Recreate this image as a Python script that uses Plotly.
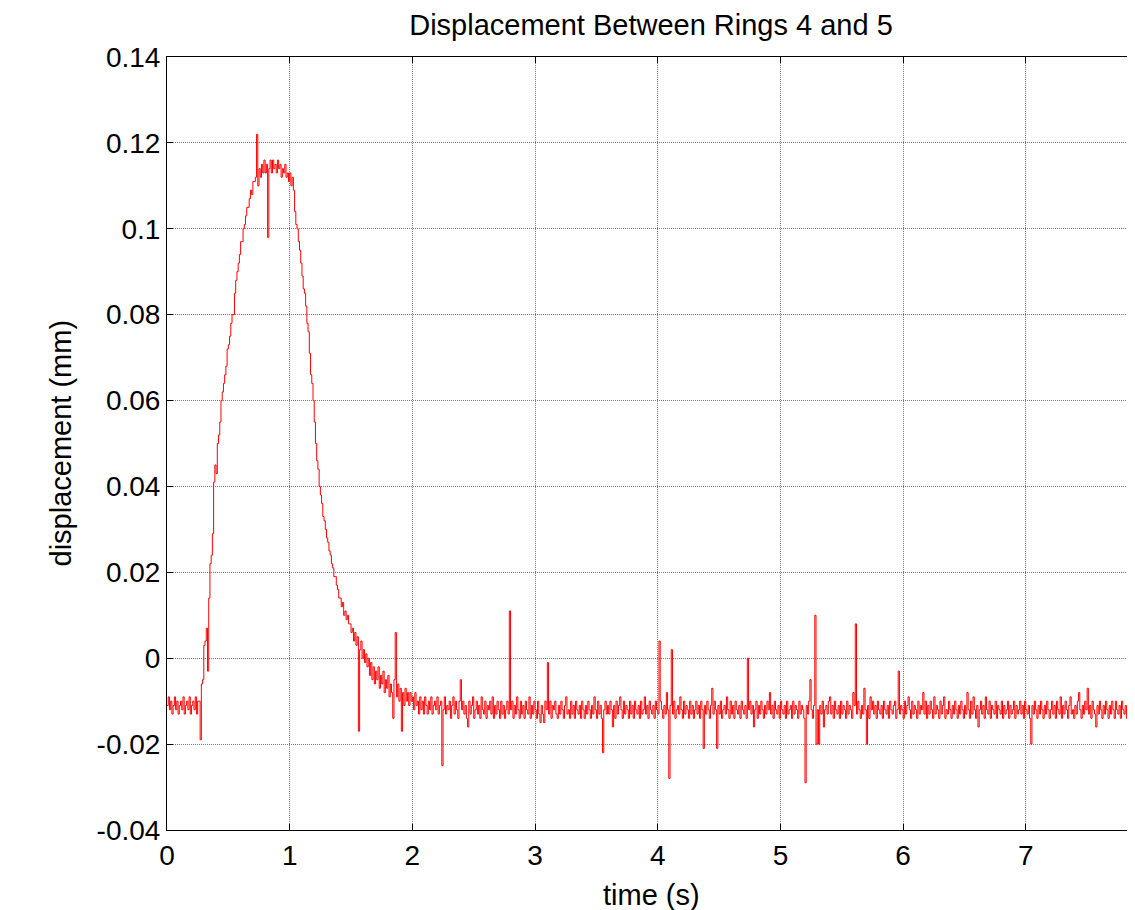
import plotly.graph_objects as go

# sample spacing of the logged signal (s)
dt = 0.01

# displacement between rings 4 and 5 in micrometres,
# one value per dt, 20 values (0.2 s) per row
disp_um = [
    -11, -9, -12, -10, -13, -11, -9, -12, -10, -13, -11, -10, -12, -9, -13, -11, -10, -12, -9, -13,
    -11, -10, -12, -9, -13, -10, -10, -19, -6, -5, 3, 4, 7, -3, 14, 22, 24, 29, 41, 45,
    43, 50, 52, 55, 60, 62, 64, 66, 68, 72, 73, 75, 78, 80, 80, 85, 88, 90, 92, 94,
    97, 97, 100, 101, 103, 105, 105, 107, 109, 108, 111, 111, 112, 122, 110, 114, 112, 115, 113, 116,
    113, 115, 98, 114, 116, 113, 116, 114, 115, 113, 116, 114, 115, 112, 114, 113, 115, 112, 113, 111,
    113, 110, 112, 109, 104, 101, 100, 97, 95, 92, 89, 86, 85, 82, 78, 76, 71, 66, 64, 60,
    55, 50, 46, 44, 40, 38, 36, 33, 32, 30, 28, 27, 25, 24, 22, 21, 19, 19, 17, 16,
    14, 14, 12, 13, 10, 11, 9, 10, 8, 8, 6, 7, 4, 6, 3, 5, -17, 2, 4, 0,
    2, -1, 1, -2, 0, -4, -1, -5, -2, -6, -3, -5, -2, -7, -4, -6, -3, -8, -5, -7,
    -4, -9, -6, -8, -14, -5, 6, -9, -6, -10, -7, -17, -8, -11, -7, -10, -8, -11, -8, -10,
    -9, -12, -8, -11, -10, -13, -9, -12, -10, -13, -9, -11, -13, -10, -12, -9, -13, -11, -10, -12,
    -9, -13, -11, -10, -25, -12, -9, -13, -11, -12, -10, -14, -11, -9, -13, -10, -12, -14, -10, -5,
    -12, -10, -13, -11, -14, -16, -10, -13, -11, -9, -14, -12, -10, -13, -11, -14, -9, -12, -13, -10,
    -14, -11, -12, -10, -13, -9, -14, -11, -13, -10, -12, -14, -10, -13, -11, -14, -12, -10, -13, 11,
    -12, -10, -14, -11, -13, -9, -12, -14, -10, -13, -11, -14, -10, -12, -13, -9, -14, -11, -13, -10,
    -12, -14, -10, -13, -15, -11, -13, -15, -10, -12, -1, -13, -10, -14, -11, -12, -10, -13, -14, -11,
    -13, -10, -12, -14, -11, -9, -13, -12, -14, -10, -13, -11, -14, -10, -12, -13, -11, -14, -10, -12,
    -14, -11, -13, -10, -12, -14, -11, -13, -9, -12, -14, -10, -13, -11, -14, -22, -12, -10, -13, -11,
    -13, -10, -12, -16, -11, -14, -10, -13, -11, -9, -12, -14, -10, -13, -11, -12, -14, -10, -13, -11,
    -14, -10, -12, -13, -11, -14, -10, -13, -12, -9, -13, -11, -14, -10, -12, -13, -11, -14, -10, -12,
    -13, 4, -10, -12, -14, -11, -13, -8, -12, -28, -11, 2, -13, -10, -14, -12, -11, -13, -9, -12,
    -14, -10, -13, -11, -12, -14, -10, -13, -11, -14, -12, -10, -13, -11, -14, -10, -12, -21, -11, -13,
    -10, -12, -14, -11, -7, -13, -10, -12, -21, -11, -13, -10, -14, -12, -11, -13, -9, -12, -14, -10,
    -13, -11, -14, -10, -12, -13, -11, -14, -10, -12, -13, -11, -14, 0, -12, -10, -13, -11, -16, -12,
    -10, -14, -11, -13, -10, -12, -14, -11, -13, -10, -12, -8, -13, -11, -14, -10, -12, -13, -11, -14,
    -10, -12, -13, -11, -14, -10, -13, -12, -11, -14, -10, -13, -11, -12, -14, -10, -13, -11, -12, -14,
    -29, -11, -13, -10, -5, -12, -14, -11, 10, -20, -12, -20, -11, -13, -10, -16, -12, -11, -13, -10,
    -9, -13, -11, -14, -10, -12, -13, -11, -14, -10, -13, -11, -12, -14, -10, -13, -11, -12, -14, -8,
    -11, 8, -13, -10, -12, -14, -11, -13, -7, -12, -20, -11, -14, -9, -12, -10, -13, -11, -14, -10,
    -12, -13, -11, -14, -10, -12, -13, -11, -14, -10, -12, -13, -11, -10, -14, -12, -3, -13, -11, -12,
    -14, -10, -13, -11, -9, -12, -14, -10, -13, -11, -12, -14, -10, -13, -11, -12, -8, -13, -10, -14,
    -11, -13, -10, -12, -14, -9, -13, -11, -12, -14, -10, -13, -11, -9, -14, -12, -13, -10, -12, -14,
    -11, -13, -10, -12, -14, -11, -13, -10, -12, -14, -11, -13, -8, -12, -14, -10, -13, -9, -12, -14,
    -11, -16, -12, -10, -13, -11, -14, -9, -12, -13, -10, -14, -11, -12, -13, -10, -14, -11, -12, -13,
    -10, -14, -11, -13, -12, -10, -14, -11, -13, -12, -10, -14, -11, -13, -12, -10, -13, -11, -14, -10,
    -12, -13, -11, -14, -20, -11, -13, -10, -12, -14, -11, -13, -10, -12, -14, -11, -13, -10, -12, -14,
    -12, -10, -13, -11, -14, -10, -12, -13, -9, -14, -11, -13, -10, -12, -14, -11, -9, -13, -12, -14,
    -11, -13, -10, -8, -12, -14, -11, -13, -10, -12, -7, -13, -11, -14, -10, -12, -13, -16, -11, -13,
    -10, -12, -14, -11, -13, -10, -12, -14, -11, -13, -10, -12, -14, -10, -12, -13, -11, -14, -10, -12,
    -13, -11, -14, -10, -12, -13, -11, -14, -12,
]

x_ticks = [0, 1, 2, 3, 4, 5, 6, 7]
y_ticks = [-0.04, -0.02, 0, 0.02, 0.04, 0.06, 0.08, 0.1, 0.12, 0.14]
y_tick_text = ["-0.04", "-0.02", "0", "0.02", "0.04", "0.06", "0.08", "0.1", "0.12", "0.14"]

time_s = [i * dt for i in range(len(disp_um))]
disp_mm = [v / 1000 for v in disp_um]

font = "Liberation Sans, Arial, sans-serif"

fig = go.Figure()
fig.add_trace(go.Scatter(x=time_s, y=disp_mm, mode="lines",
                         line=dict(color="#ff0000", width=1, shape="hv"),
                         showlegend=False))

axis_style = dict(showline=True, linecolor="black", linewidth=1, mirror="ticks",
                  ticks="inside", ticklen=6, tickcolor="black",
                  showgrid=True, gridcolor="#7a7a7a", griddash="1px,1px", gridwidth=1,
                  zeroline=False, tickfont=dict(family=font, size=28, color="black"))

fig.update_xaxes(range=[0, 7.89], tickvals=x_ticks, **axis_style)
fig.update_yaxes(range=[-0.04, 0.14], tickvals=y_ticks, ticktext=y_tick_text, **axis_style)

# the page body adds an 8px offset, so the figure is 8px smaller and shifted
fig.update_layout(
    width=1127, height=902,
    margin=dict(l=159, r=0, t=49, b=80),
    paper_bgcolor="white", plot_bgcolor="white",
    title=dict(text="Displacement Between Rings 4 and 5", x=0.5, xref="paper",
               y=1 - 17 / 902, yref="container", yanchor="middle",
               font=dict(family=font, size=29, color="black")),
    annotations=[
        dict(text="time (s)", xref="paper", yref="paper", x=0.5, y=-65 / 773,
             yanchor="middle", showarrow=False,
             font=dict(family=font, size=29, color="black")),
        dict(text="displacement (mm)", xref="paper", yref="paper", x=-107 / 968, y=0.5,
             textangle=-90, xanchor="center", showarrow=False,
             font=dict(family=font, size=29, color="black")),
    ],
)

fig.write_html("out.html")
